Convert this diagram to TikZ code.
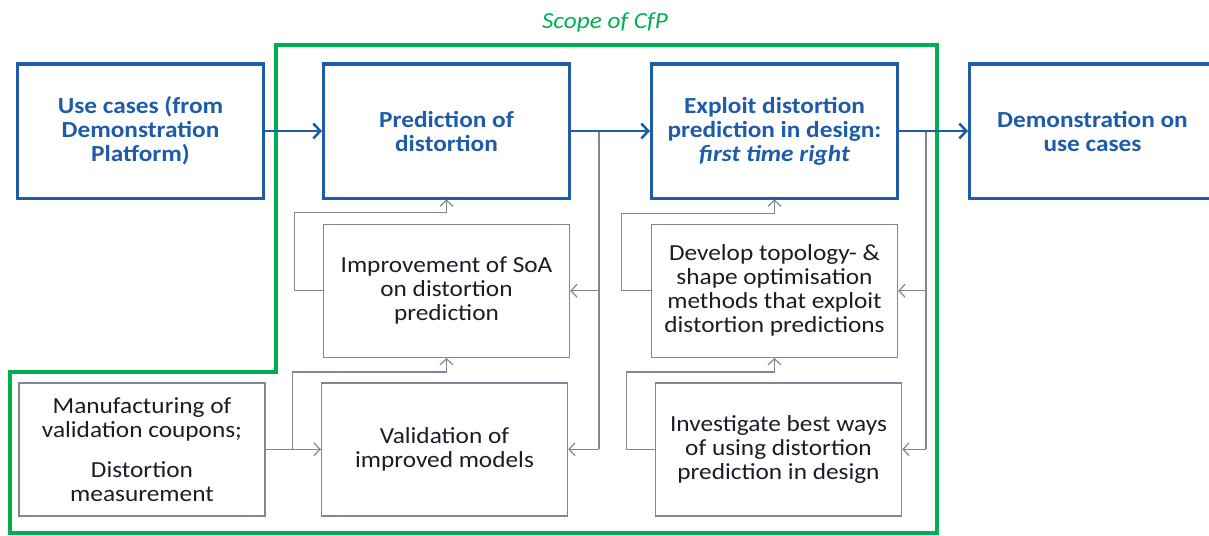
\documentclass[tikz,border=0pt]{standalone}
\usepackage{fontspec}
\setmainfont{Carlito}[FakeStretch=1.1]
\usepackage{xcolor}
\usetikzlibrary{arrows.meta,positioning}
\definecolor{cfpblue}{RGB}{30,92,170}
\definecolor{cfpgray}{RGB}{128,134,150}
\definecolor{cfpgreen}{RGB}{0,176,80}
\definecolor{cfptext}{RGB}{28,28,38}
\begin{document}
\begin{tikzpicture}[
    x=1pt,y=-1pt,
    node distance=24pt and 57pt,
    mainbox/.style={draw=cfpblue,line width=3pt,minimum width=246pt,minimum height=134pt,inner sep=0pt,align=center,text=cfpblue,font=\fontsize{23}{24}\selectfont\bfseries},
    taskbox/.style={draw=cfpgray,line width=1.5pt,minimum width=246pt,minimum height=133pt,inner sep=0pt,align=center,text=cfptext,font=\fontsize{23}{24}\selectfont},
    mainarr/.style={-{Straight Barb[length=7pt,width=15pt,line width=2.5pt]},draw=cfpblue,line width=2.5pt},
    taskarr/.style={-{Straight Barb[length=6pt,width=13pt]},draw=cfpgray,line width=1.2pt},
    taskline/.style={draw=cfpgray,line width=1.2pt}
]
\useasboundingbox (0,0) rectangle (1209,535);
\draw[cfpgreen,line width=3.5pt] (276,45) -- (937,45) -- (937,533) -- (10,533) -- (10,372) -- (276,372) -- cycle;
\node[text=cfpgreen,font=\fontsize{23}{24}\selectfont\itshape] (scope) at (605,22) {Scope of CfP};
\node[mainbox] (usecases) at (140.5,131) {Use cases (from\\Demonstration\\Platform)};
\node[mainbox,right=57pt of usecases] (predict) {Prediction of\\distortion};
\node[mainbox,right=79pt of predict] (exploit) {Exploit distortion\\prediction in design:\\\textit{first time right}};
\node[mainbox,right=69pt of exploit] (demo) {Demonstration on\\use cases};
\node[taskbox,below=of predict] (improve) {Improvement of SoA\\on distortion\\prediction};
\node[taskbox,below=of improve,xshift=-2pt] (validate) {Validation of\\improved models};
\node[taskbox,left=55pt of validate] (manufact) {Manufacturing of\\validation coupons;\\[16pt]Distortion\\measurement};
\node[taskbox,below=of exploit] (develop) {Develop topology- \&\\shape optimisation\\methods that exploit\\distortion predictions};
\node[taskbox,below=of develop,xshift=4pt] (investig) {Investigate best ways\\of using distortion\\prediction in design};
\coordinate (predsplit) at ([xshift=28pt]predict.east);
\coordinate (explsplit) at ([xshift=27pt]exploit.east);
\draw[taskline] (predsplit) -- (predsplit |- validate.east);
\draw[taskarr] (predsplit |- improve.east) -- (improve.east);
\draw[taskarr] (predsplit |- validate.east) -- (validate.east);
\draw[taskline] (explsplit) -- (explsplit |- investig.east);
\draw[taskarr] (explsplit |- develop.east) -- (develop.east);
\draw[taskarr] (explsplit |- investig.east) -- (investig.east);
\draw[taskarr] (improve.west) -- ++(-28,0) |- ([yshift=-13pt]predict.south) -- (predict.south);
\draw[taskarr] (validate.west) -- ++(-28,0) |- ([yshift=-14pt]improve.south) -- (improve.south);
\draw[taskarr] (develop.west) -- ++(-29,0) |- ([yshift=-14pt]exploit.south) -- (exploit.south);
\draw[taskarr] (investig.west) -- ++(-28,0) |- ([yshift=-14pt]develop.south) -- (develop.south);
\draw[taskarr] (manufact.east) -- (validate.west);
\draw[mainarr] (usecases.east) -- (predict.west);
\draw[mainarr] (predict.east) -- (exploit.west);
\draw[mainarr] (exploit.east) -- (demo.west);
\end{tikzpicture}
\end{document}
